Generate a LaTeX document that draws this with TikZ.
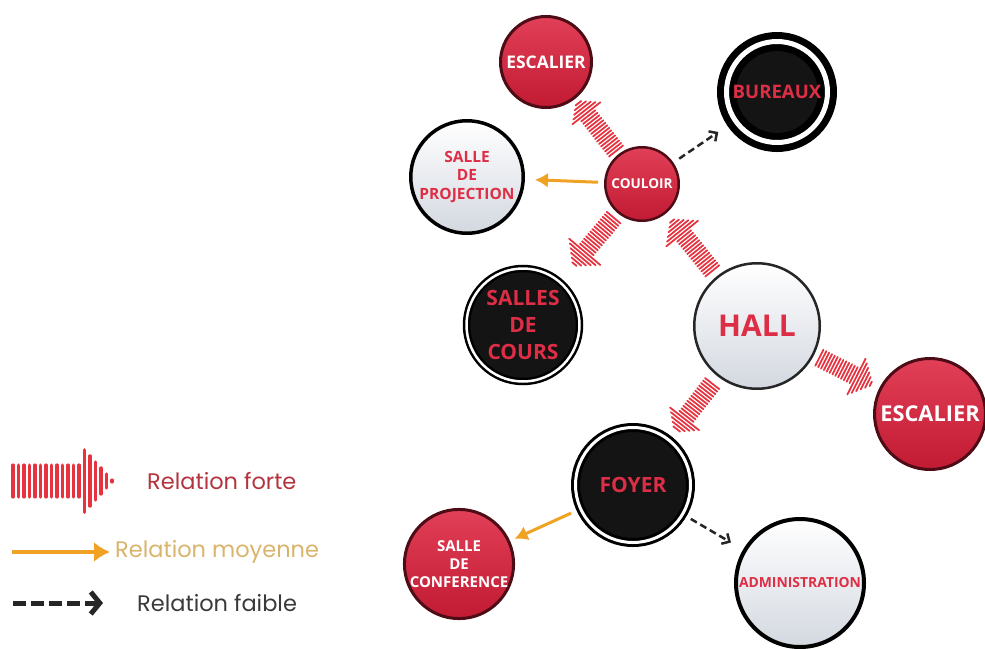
\documentclass[tikz,border=0pt]{standalone}
\usepackage{fontspec}
\setmainfont{Open Sans}
\newfontfamily\legendefont{Poppins}
\usetikzlibrary{positioning,calc,arrows.meta,decorations.markings}

\definecolor{rouge}{HTML}{DC1E3A}
\definecolor{rougefonce}{HTML}{4E0C16}
\definecolor{hachure}{HTML}{E6333F}
\definecolor{orangefl}{HTML}{F0A223}
\definecolor{texterouge}{HTML}{DE2E46}
\definecolor{grisclair}{HTML}{D3D8E0}
\definecolor{forteTexte}{HTML}{B3343F}
\definecolor{moyenneTexte}{HTML}{D9B46C}
\definecolor{faibleTexte}{HTML}{3A3A3A}

\begin{document}
\begin{tikzpicture}[x=1pt, y=-1pt,
  piece/.style={circle, inner sep=0pt, align=center},
  taille/.style 2 args={font=\bfseries\fontsize{#1}{#2}\selectfont},
  piece rouge/.style={piece, draw=rougefonce, line width=3pt, top color=rouge!85!white, bottom color=rouge!88!black, text=white},
  piece claire/.style={piece, draw=black, line width=3.5pt, top color=white, bottom color=grisclair, text=texterouge},
  piece noire/.style={piece, fill=black!92, draw=black, double=white, text=texterouge},
  forte/.style 2 args={decorate, decoration={markings,
    mark=between positions 0 and 1 step #2 with {
      \pgfmathsetmacro\reste{\pgfdecoratedpathlength-\pgfkeysvalueof{/pgf/decoration/mark info/distance from start}}
      \pgfmathsetmacro\demi{\reste>2*#1 ? #1 : 1.1*\reste+1}
      \draw[hachure, line width=0.55*#2, line cap=round] (0,-\demi pt) -- (0,\demi pt);
    }}},
  moyenne/.style={orangefl, line width=3pt, -{Latex[length=13pt,width=15pt]}},
  faible/.style={black!85, line width=2.5pt, dash pattern=on 7pt off 4pt, -{Straight Barb[length=6pt,width=12pt]}},
  legende/.style={font=\legendefont\fontsize{22.5}{26}\selectfont, inner sep=0pt}
]
\useasboundingbox (0,0) rectangle (985,648);

\node[piece rouge, minimum size=91pt, taille={17.4}{20}] (escalierA) at (546,62) {ESCALIER};
\node[piece noire, line width=7pt, double distance=5pt, minimum size=101pt, taille={18.6}{22}] (bureaux) at (777,92) {BUREAUX};
\node[piece claire, minimum size=112.5pt, taille={15.5}{18.5}] (projection) at (467,177) {SALLE\\DE\\PROJECTION};
\node[piece rouge, line width=2.5pt, minimum size=73.5pt, taille={13.6}{16}] (couloir) at (642,184) {COULOIR};
\node[piece noire, line width=2.5pt, double distance=2.5pt, minimum size=113pt, taille={21}{27}] (cours) at (523,325) {SALLES\\DE\\COURS};
\node[piece claire, draw=black!85, line width=2.5pt, minimum size=125.5pt, taille={30}{34}] (hall) at (757,326) {HALL};
\node[piece rouge, minimum size=111pt, taille={21.8}{25}] (escalierB) at (930,414) {ESCALIER};
\node[piece noire, line width=3pt, double distance=3pt, minimum size=115pt, taille={21}{25}] (foyer) at (633,485) {FOYER};
\node[piece rouge, minimum size=109pt, taille={15}{18}] (conference) at (459,564) {SALLE\\DE\\CONFERENCE};
\node[piece claire, line width=4pt, minimum size=128pt, taille={13.9}{17}] (admin) at (800,583) {ADMINISTRATION};

\path[forte={9}{3.2pt}] ($(couloir)!42pt!(escalierA)$) -- ($(escalierA)!50pt!(couloir)$);
\path[forte={9}{3.2pt}] ($(couloir)!44pt!(cours)$) -- ($(cours)!78pt!(couloir)$);
\path[forte={9}{3.2pt}] ($(hall)!71pt!(couloir)$) -- ($(couloir)!46pt!(hall)$);
\path[forte={9}{3.2pt}] ($(hall)!70pt!(escalierB)$) -- ($(escalierB)!65pt!(hall)$);
\path[forte={9}{3.2pt}] ($(hall)!73pt!(foyer)$) -- ($(foyer)!68pt!(hall)$);

\draw[moyenne, shorten <=6pt, shorten >=10pt] (couloir) -- (projection);
\draw[moyenne, shorten <=9pt, shorten >=5pt] (foyer) -- (conference);
\draw[faible, shorten <=7pt, shorten >=17pt] (couloir) -- (bureaux);
\draw[faible, shorten <=8pt, shorten >=14pt] (foyer) -- (admin);

% legende
\coordinate (forteA) at (13,481);
\coordinate (forteB) at (112,481);
\coordinate (moyenneA) at (12,552);
\coordinate (moyenneB) at (110,552);
\coordinate (faibleA) at (13,603);
\coordinate (faibleB) at (103,603);
\path[forte={16}{5.5pt}] (forteA) -- (forteB);
\draw[orangefl, line width=4pt, -{Latex[length=16pt,width=20pt]}] (moyenneA) -- (moyenneB);
\draw[black!85, line width=5pt, dash pattern=on 13pt off 5pt, -{Straight Barb[length=9pt,width=22pt,line width=5pt]}] (faibleA) -- (faibleB);
\node[legende, text=forteTexte, anchor=west, right=35pt of forteB] (forteT) {Relation forte};
\node[legende, text=moyenneTexte, anchor=west, right=5pt of moyenneB] (moyenneT) {Relation moyenne};
\node[legende, text=faibleTexte, anchor=west, right=34pt of faibleB] (faibleT) {Relation faible};
\end{tikzpicture}
\end{document}
